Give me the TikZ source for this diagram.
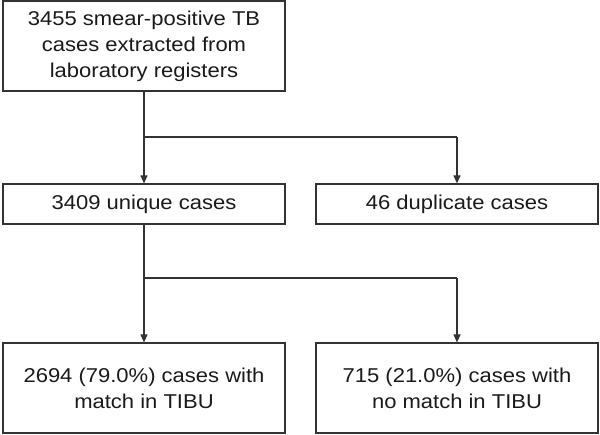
\documentclass[tikz,border=0pt]{standalone}
\usepackage{fontspec}
\setmainfont{Liberation Sans}[FakeStretch=1.1]
\usetikzlibrary{arrows.meta}
\definecolor{linegray}{HTML}{333333}
\definecolor{textgray}{HTML}{1A1A1A}
\begin{document}
\begin{tikzpicture}[x=1pt,y=-1pt,
  boxstyle/.style={draw=linegray, line width=1.2pt, fill=white, inner sep=0pt, align=center,
    font=\fontsize{20}{26}\selectfont, text=textgray, minimum width=282pt},
  conn/.style={draw=linegray, line width=1.1pt},
  arr/.style={conn, -{Triangle[length=8pt,width=7pt]}}]
\useasboundingbox (0,0) rectangle (600,434);
\node[boxstyle, minimum height=90pt] (a) at (144,46) {3455 smear-positive TB\\cases extracted from\\laboratory registers};
\node[boxstyle, minimum height=40pt] (b) at (144,204) {3409 unique cases};
\node[boxstyle, minimum height=40pt] (c) at (457,204) {46 duplicate cases};
\node[boxstyle, minimum height=90pt] (d) at (144,388) {2694 (79.0\%) cases with\\match in TIBU};
\node[boxstyle, minimum height=90pt] (e) at (457,388) {715 (21.0\%) cases with\\no match in TIBU};
\coordinate (j1) at (144,137);
\coordinate (k1) at (457,137);
\coordinate (j2) at (144,278);
\coordinate (k2) at (457,278);
\draw[conn] (a.south) -- (j1) -- (k1);
\draw[arr] (j1) -- (b.north);
\draw[arr] (k1) -- (c.north);
\draw[conn] (b.south) -- (j2) -- (k2);
\draw[arr] (j2) -- (d.north);
\draw[arr] (k2) -- (e.north);
\end{tikzpicture}
\end{document}
